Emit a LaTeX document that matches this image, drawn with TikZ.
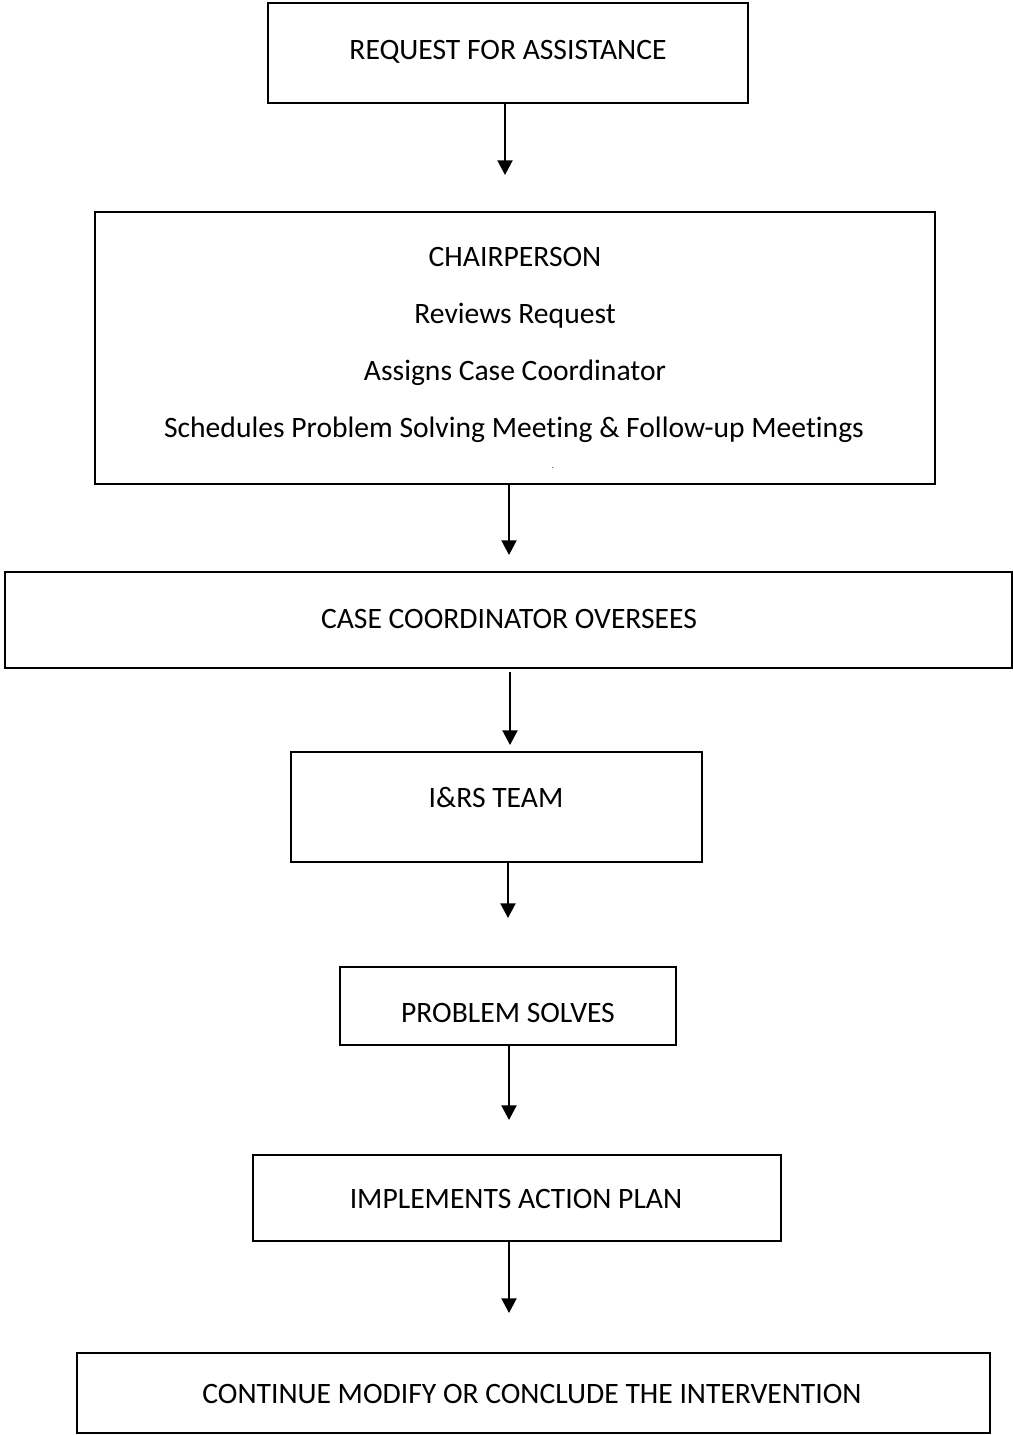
\documentclass[tikz,border=0pt]{standalone}
\usepackage{fontspec}
\setmainfont{Carlito}[Ligatures={NoCommon}]
\usetikzlibrary{arrows.meta}
\begin{document}
\begin{tikzpicture}[x=0.75pt,y=-0.75pt,
  box/.style={draw=black,line width=1.3pt,inner sep=0pt,outer sep=0pt,rectangle},
  lbl/.style={inner sep=0pt,anchor=base,font=\fontsize{22.2pt}{26pt}\selectfont},
  arr/.style={line width=1.5pt,-{Triangle[width=11.25pt,length=11pt]}}]
\useasboundingbox (0,0) rectangle (1013,1435);
% boxes
\node[box,minimum width=480*0.75pt,minimum height=100*0.75pt] (b1) at (508,53) {};
\node[box,minimum width=840*0.75pt,minimum height=272*0.75pt] (b2) at (515,348) {};
\node[box,minimum width=1007*0.75pt,minimum height=96*0.75pt] (b3) at (508.5,620) {};
\node[box,line width=1.8pt,minimum width=411*0.75pt,minimum height=110*0.75pt] (b4) at (496.5,807) {};
\node[box,minimum width=336*0.75pt,minimum height=78*0.75pt] (b5) at (508,1006) {};
\node[box,minimum width=528*0.75pt,minimum height=86*0.75pt] (b6) at (517,1198) {};
\node[box,minimum width=913*0.75pt,minimum height=80*0.75pt] (b7) at (533.5,1393) {};
% texts
\node[lbl] (t1) at (508,59.5) {REQUEST FOR ASSISTANCE};
\node[lbl] (t2a) at (515,266.5) {CHAIRPERSON};
\node[lbl] (t2b) at (515,323.5) {Reviews Request};
\node[lbl] (t2c) at (515,380.5) {Assigns Case Coordinator};
\node[lbl] (t2d) at (514,437.5) {Schedules Problem Solving Meeting \& Follow-up Meetings};
\node[inner sep=0pt,font=\fontsize{6pt}{7pt}\selectfont] (dot) at (553,468) {.};
\node[lbl] (t3) at (509,628.5) {CASE COORDINATOR OVERSEES};
\node[lbl] (t4) at (496,807.5) {I\&RS TEAM};
\node[lbl] (t5) at (508,1022.5) {PROBLEM SOLVES};
\node[lbl] (t6) at (516,1208.5) {IMPLEMENTS ACTION PLAN};
\node[lbl] (t7) at (532,1403.5) {CONTINUE MODIFY OR CONCLUDE THE INTERVENTION};
% arrow tips
\coordinate (a1) at (505,175);
\coordinate (a2) at (509,555);
\coordinate (a3) at (510,745);
\coordinate (a4) at (508,918);
\coordinate (a5) at (509,1120);
\coordinate (a6) at (509,1313);
\coordinate (s3) at (510,672);
\draw[arr] (b1.south -| a1) -- (a1);
\draw[arr] (b2.south -| a2) -- (a2);
\draw[arr] (s3) -- (a3);
\draw[arr] (b4.south -| a4) -- (a4);
\draw[arr] (b5.south -| a5) -- (a5);
\draw[arr] (b6.south -| a6) -- (a6);
\end{tikzpicture}
\end{document}
